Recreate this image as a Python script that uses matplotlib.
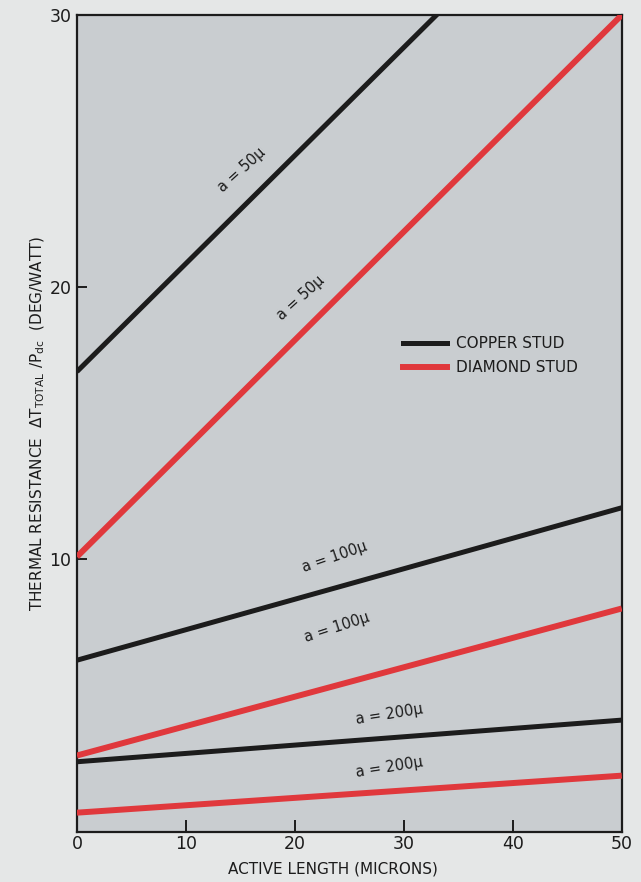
import matplotlib
matplotlib.use("Agg")
import matplotlib.pyplot as plt
from matplotlib.lines import Line2D

plt.rcParams['font.family'] = ['DejaVu Sans']

# ---- data ----
active_length = [0, 50]                 # microns
copper_a50 = [16.9, 36.75]              # clipped at the top of the chart
diamond_a50 = [10.1, 30.0]
copper_a100 = [6.3, 11.9]
diamond_a100 = [2.8, 8.2]
copper_a200 = [2.57, 4.1]
diamond_a200 = [0.7, 2.06]

x_ticks = [0, 10, 20, 30, 40, 50]
y_ticks = [10, 20, 30]

curve_labels = ["a = 50\u03bc", "a = 50\u03bc", "a = 100\u03bc", "a = 100\u03bc", "a = 200\u03bc", "a = 200\u03bc"]
label_x = [15.1, 20.5, 23.6, 23.9, 28.7, 28.7]
label_y = [24.3, 19.6, 10.1, 7.5, 4.3, 2.35]
label_rot = [42, 42, 19, 18, 9, 9]

legend_labels = ["COPPER STUD", "DIAMOND STUD"]

# ---- styling ----
BLACK = "#1c1c1c"
RED = "#e0383c"
FIG_BG = "#e5e7e7"
AX_BG = "#c9cdd0"

fig = plt.figure(figsize=(6.41, 8.82), dpi=100, facecolor=FIG_BG)
ax = fig.add_axes([0.120, 0.057, 0.850, 0.926])
ax.set_facecolor(AX_BG)

lw_black = 3.6
lw_red = 4.3
for series, col, lw in [(copper_a50, BLACK, lw_black), (diamond_a50, RED, lw_red),
                        (copper_a100, BLACK, lw_black), (diamond_a100, RED, lw_red),
                        (copper_a200, BLACK, lw_black), (diamond_a200, RED, lw_red)]:
    ax.plot(active_length, series, color=col, lw=lw, solid_capstyle='butt', zorder=3)

for t, xx, yy, r in zip(curve_labels, label_x, label_y, label_rot):
    ax.text(xx, yy, t, rotation=r, rotation_mode='anchor', ha='center', va='center',
            fontsize=10.5, color=BLACK)

ax.set_xlim(0, 50)
ax.set_ylim(0, 30)
ax.set_xticks(x_ticks)
ax.set_xticklabels([str(v) for v in x_ticks])
ax.set_yticks(y_ticks)
ax.set_yticklabels([str(v) for v in y_ticks])
ax.tick_params(axis='x', direction='in', length=9, width=1.4, labelsize=12.5, pad=2, colors=BLACK)
ax.tick_params(axis='y', direction='in', length=7, width=1.4, labelsize=12.5, pad=4, colors=BLACK)
for s in ax.spines.values():
    s.set_linewidth(1.6)
    s.set_color(BLACK)

ax.set_xlabel("ACTIVE LENGTH (MICRONS)", fontsize=11, color=BLACK)
ax.xaxis.set_label_coords(0.47, -0.036)
ax.xaxis.label.set_va('top')
ax.set_ylabel(r"THERMAL RESISTANCE  $\Delta$T$_{\mathrm{TOTAL}}$ /P$_{\mathrm{dc}}$  (DEG/WATT)",
              fontsize=11, color=BLACK)
ax.yaxis.set_label_coords(-0.055, 0.5)

handles = [Line2D([], [], color=BLACK, lw=lw_black), Line2D([], [], color=RED, lw=lw_red)]
ax.legend(handles, legend_labels, loc='upper left', bbox_to_anchor=(0.598, 0.607),
          frameon=False, fontsize=11, handlelength=2.9, handletextpad=0.6,
          borderpad=0, borderaxespad=0, labelspacing=0.6, labelcolor=BLACK)

fig.savefig("out.png", dpi=100, facecolor=FIG_BG)
